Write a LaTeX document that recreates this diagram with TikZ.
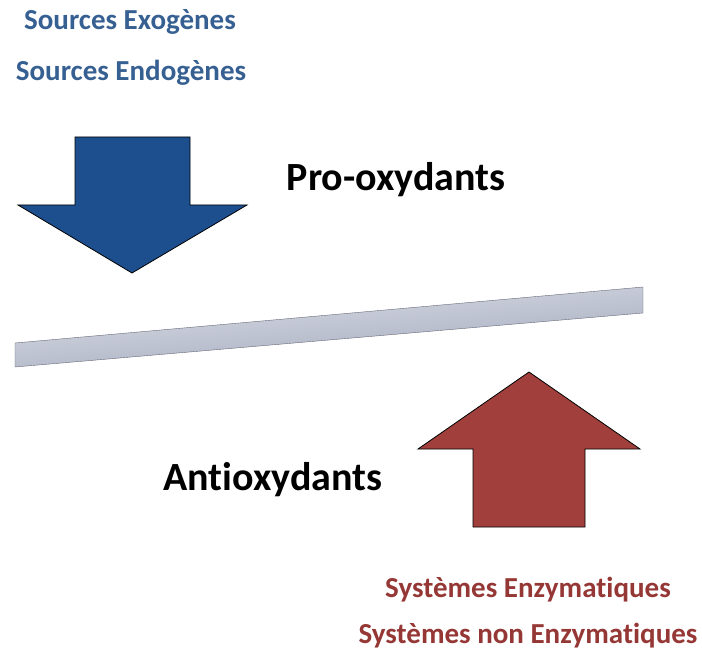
\documentclass[tikz,border=0pt]{standalone}
\usepackage{fontspec}
\setmainfont{Carlito}[RawFeature={-liga;-clig;-dlig;-calt;-rlig}]
\definecolor{srcblue}{HTML}{376092}
\definecolor{sysred}{HTML}{953735}
\definecolor{arrblue}{HTML}{1D4F8F}
\definecolor{arrred}{HTML}{A03F3C}
\definecolor{bargray}{HTML}{A7AEC4}
\tikzset{
	biglabel/.style={font=\bfseries\fontsize{40}{48}\selectfont, text=black, anchor=base, inner sep=0pt},
	srclabel/.style={font=\bfseries\fontsize{29}{35}\selectfont, text=srcblue, anchor=base, inner sep=0pt},
	syslabel/.style={font=\bfseries\fontsize{29}{35}\selectfont, text=sysred, anchor=base, inner sep=0pt},
	bigarrow/.style={draw=black, line width=0.8pt, line join=miter}
}
\begin{document}
\begin{tikzpicture}[x=1pt,y=-1pt]
	\useasboundingbox (0,0) rectangle (702,655);
	% labels
	\node (exo) at (130, 30)	[srclabel]	{Sources Exogènes};
	\node (endo) at (131, 81)	[srclabel]	{Sources Endogènes};
	\node (pro) at (396, 191)	[biglabel]	{Pro-oxydants};
	\node (anti) at (273, 490)	[biglabel]	{Antioxydants};
	\node (enz) at (528, 597)	[syslabel]	{Systèmes Enzymatiques};
	\node (nonenz) at (528, 643)	[syslabel]	{Systèmes non Enzymatiques};
	% balance bar
	\shade[top color=bargray!35, bottom color=bargray!95!black, shading angle=5, draw=bargray!60!black, line width=0.4pt]
		(15,343) -- (643,287) -- (643,313) -- (15,367) -- cycle;
	% arrows
	\fill[arrblue, bigarrow]
		(75,137) -- (190,137) -- (190,205) -- (247,205) -- (132,273) -- (18,205) -- (75,205) -- cycle;
	\fill[arrred, bigarrow]
		(473,527) -- (585,527) -- (585,449) -- (640,449) -- (529,372) -- (418,449) -- (473,449) -- cycle;
\end{tikzpicture}
\end{document}
